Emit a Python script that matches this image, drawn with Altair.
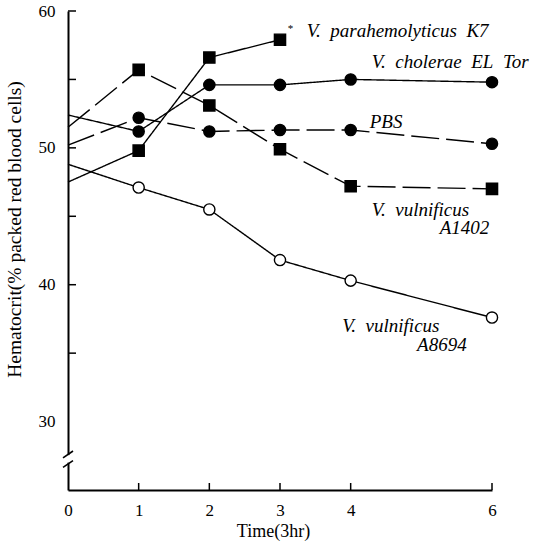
import altair as alt
import pandas as pd

# Hematocrit (% packed red blood cells) over time (units of 3 hr)
times = [0, 1, 2, 3, 4, 6]
k7 = [47.5, 49.8, 56.6, 57.9]                 # V. parahemolyticus K7 (t = 0..3)
el_tor = [52.4, 51.2, 54.6, 54.6, 55.0, 54.8]  # V. cholerae EL Tor
pbs = [50.2, 52.2, 51.2, 51.3, 51.3, 50.3]     # PBS control
a1402 = [51.5, 55.7, 53.1, 49.9, 47.2, 47.0]   # V. vulnificus A1402
a8694 = [48.8, 47.1, 45.5, 41.8, 40.3, 37.6]   # V. vulnificus A8694

series_names = ["K7", "EL Tor", "PBS", "A1402", "A8694"]
series_values = [k7, el_tor, pbs, a1402, a8694]
series_dash = ["solid", "solid", "dashed", "dashed", "solid"]
series_shape = ["square", "circle", "circle", "square", "circle"]
series_fill = ["black", "black", "black", "black", "white"]

x_ticks = [0, 1, 2, 3, 4, 6]
y_labels = [30, 40, 50, 60]
y_ticks = [35, 40, 45, 50, 55, 60]

rows = []
for name, vals, dash, shape, fill in zip(series_names, series_values,
                                         series_dash, series_shape, series_fill):
    for t, v in zip(times, vals):
        rows.append({"series": name, "t": t, "hct": v, "dash": dash,
                     "shape": shape, "fill": fill})
df = pd.DataFrame(rows)

# annotation text placed in data coordinates (wide word spacing via nbsp)
SP = "\u00a0\u00a0"
ann_text = [f"V.{SP}parahemolyticus{SP}K7", f"V.{SP}cholerae{SP}EL{SP}Tor", "PBS",
            f"V.{SP}vulnificus", "A1402", f"V.{SP}vulnificus", "A8694"]
ann_x = [3.38, 4.30, 4.27, 4.30, 5.26, 3.88, 4.94]
ann_y = [58.55, 56.25, 51.9, 45.45, 44.15, 37.0, 35.6]
ann = pd.DataFrame({"text": ann_text, "t": ann_x, "hct": ann_y})

FONT = "Liberation Serif"
W, H = 424, 479

x_enc = alt.X("t:Q", scale=alt.Scale(domain=[0, 6], nice=False),
              axis=alt.Axis(values=x_ticks, format="d", title="Time(3hr)",
                            ticks=False, grid=False, labelPadding=12,
                            titlePadding=4, titleX=205,
                            domainColor="black", domainWidth=2,
                            labelFont=FONT, labelFontSize=17, labelColor="black",
                            titleFont=FONT, titleFontSize=18,
                            titleFontWeight="normal", titleColor="black",
                            labelFlush=False))
y_enc = alt.Y("hct:Q", scale=alt.Scale(domain=[25, 60], nice=False, zero=False),
              axis=alt.Axis(values=y_labels, format="d",
                            title="Hematocrit(% packed red blood cells)",
                            ticks=False, grid=False, labelPadding=13,
                            titlePadding=14, titleY=218,
                            domainColor="black", domainWidth=2,
                            labelFont=FONT, labelFontSize=17, labelColor="black",
                            titleFont=FONT, titleFontSize=19.5,
                            titleFontWeight="normal", titleColor="black",
                            labelFlush=False))

base = alt.Chart(df)

lines = base.mark_line(color="black", strokeWidth=1.4).encode(
    x=x_enc, y=y_enc, detail="series:N", order="t:Q",
    strokeDash=alt.StrokeDash("dash:N", legend=None,
                              scale=alt.Scale(domain=["solid", "dashed"],
                                              range=[[1, 0], [28, 7]])),
)

points = base.transform_filter("datum.t > 0").mark_point(
    filled=True, size=125, stroke="black", strokeWidth=1.4, opacity=1
).encode(
    x="t:Q", y="hct:Q",
    shape=alt.Shape("shape:N", scale=None),
    fill=alt.Fill("fill:N", scale=None),
)

# inward tick marks on both axes
y_tick_df = pd.DataFrame({"hct": y_ticks})
y_tick_marks = alt.Chart(y_tick_df).mark_rule(color="black", strokeWidth=1.5).encode(
    y="hct:Q", x=alt.value(0), x2=alt.value(8))
x_tick_df = pd.DataFrame({"t": [1, 2, 3, 4, 6]})
x_tick_marks = alt.Chart(x_tick_df).mark_rule(color="black", strokeWidth=1.5).encode(
    x="t:Q", y=alt.value(H), y2=alt.value(H - 7))

# axis break on the y axis
gap = alt.Chart(pd.DataFrame({"lo": [27.0], "hi": [27.55]})).mark_rect(
    color="white").encode(y="lo:Q", y2="hi:Q", x=alt.value(-2), x2=alt.value(3))
brk = pd.DataFrame({"lo": [27.35, 26.65], "hi": [27.85, 27.15]})
break_marks = alt.Chart(brk).mark_rule(color="black", strokeWidth=1.6).encode(
    y="lo:Q", y2="hi:Q", x=alt.value(-5), x2=alt.value(5))

labels = alt.Chart(ann).mark_text(
    font=FONT, fontStyle="italic", fontSize=19, align="left",
    baseline="middle", color="black"
).encode(x="t:Q", y="hct:Q", text="text:N")

star = alt.Chart(pd.DataFrame({"t": [3.11], "hct": [58.7], "s": ["*"]})).mark_text(
    font=FONT, fontSize=11, align="left", baseline="middle", color="black"
).encode(x="t:Q", y="hct:Q", text="s:N")

chart = alt.layer(
    lines, gap, break_marks, y_tick_marks, x_tick_marks, points, labels, star
).properties(
    width=W, height=H,
    autosize=alt.AutoSizeParams(type="none"),
    padding={"left": 68, "top": 11, "right": 44, "bottom": 52},
).configure_view(stroke=None)

chart.save("out.html", embed_options={"renderer": "svg", "actions": False})
